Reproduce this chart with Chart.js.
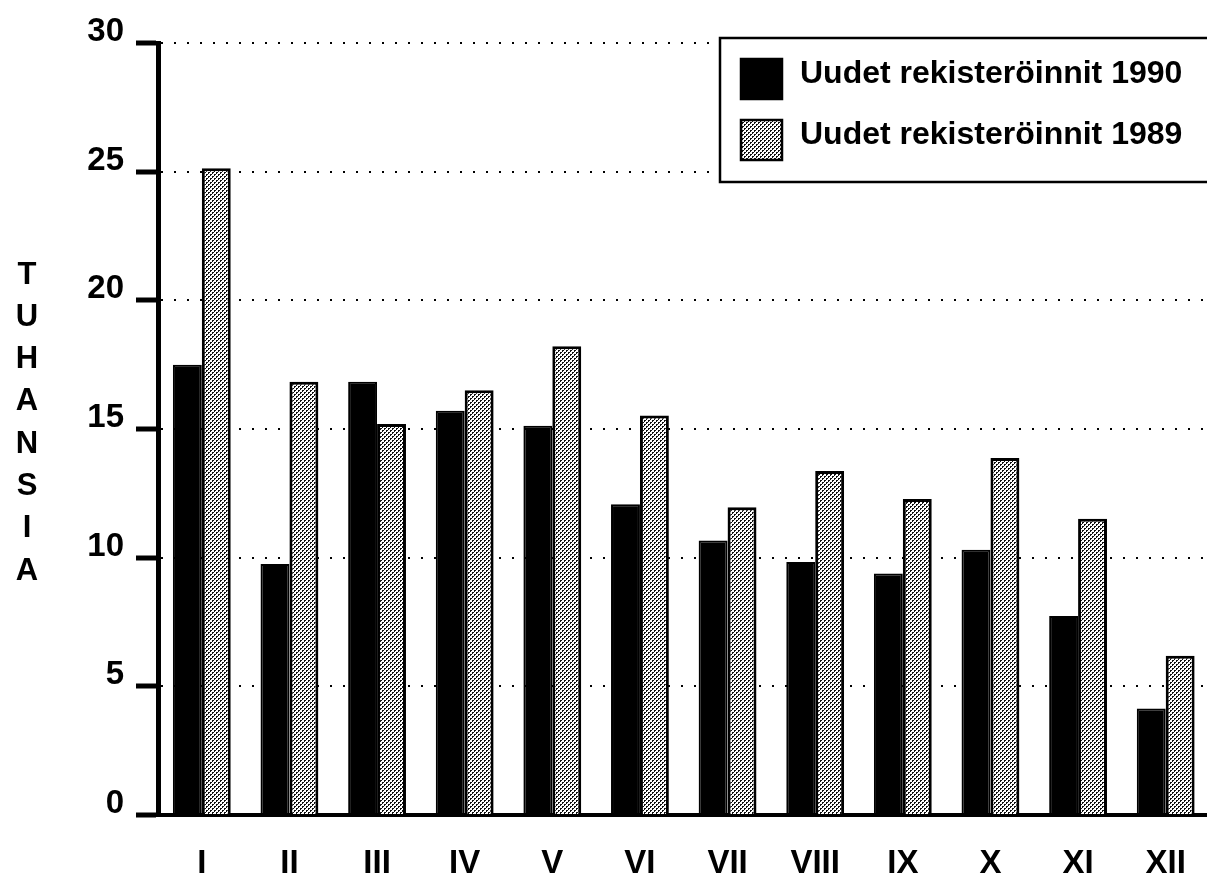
<!DOCTYPE html>
<html>
<head>
<meta charset="utf-8">
<script src="https://cdn.jsdelivr.net/npm/chart.js@4.4.1/dist/chart.umd.min.js"></script>
<style>
  html, body { margin: 0; padding: 0; background: #fff; overflow: hidden; }
  canvas { display: block; }
</style>
</head>
<body>
<canvas id="rekisterointiChart" width="1215" height="875"></canvas>
<script>
// kuukaudet ja arvot (tuhansia)
var kuukaudet = ['I', 'II', 'III', 'IV', 'V', 'VI', 'VII', 'VIII', 'IX', 'X', 'XI', 'XII'];
var rekisteroinnit1990 = [17.5, 9.75, 16.84, 15.71, 15.13, 12.08, 10.67, 9.83, 9.38, 10.31, 7.73, 4.14];
var rekisteroinnit1989 = [25.13, 16.84, 15.19, 16.51, 18.22, 15.52, 11.96, 13.37, 12.28, 13.87, 11.51, 6.19];
var sarjaNimet = ['Uudet rekisteröinnit 1990', 'Uudet rekisteröinnit 1989'];
var akseliOtsikko = 'TUHANSIA';

var fontti = '"Liberation Sans", Arial, Helvetica, sans-serif';

// rasterikuvio 1989 pylväille
function teeKuvio() {
    var c = document.createElement('canvas');
    c.width = 4; c.height = 4;
    var x = c.getContext('2d');
    x.fillStyle = '#fff';
    x.fillRect(0, 0, 4, 4);
    x.fillStyle = '#111';
    x.fillRect(0, 0, 2, 1);
    x.fillRect(0, 1, 1, 1);
    x.fillRect(2, 2, 2, 1);
    x.fillRect(2, 3, 1, 1);
    return x.createPattern(c, 'repeat');
}

var ctx = document.getElementById('rekisterointiChart').getContext('2d');
var kuvio = teeKuvio();

// pystyakselin otsikko kirjain kerrallaan
var pystyOtsikko = {
    id: 'pystyOtsikko',
    afterDraw: function (chart) {
        var c = chart.ctx;
        c.save();
        c.fillStyle = '#000';
        c.font = 'bold 31px ' + fontti;
        c.textAlign = 'center';
        c.textBaseline = 'middle';
        for (var i = 0; i < akseliOtsikko.length; i++) {
            c.fillText(akseliOtsikko[i], 27, 275 + i * 42.3);
        }
        c.restore();
    }
};

// selite laatikossa oikeassa yläkulmassa
var seliteLaatikko = {
    id: 'seliteLaatikko',
    afterDraw: function (chart) {
        var c = chart.ctx;
        c.save();
        c.fillStyle = '#fff';
        c.fillRect(720, 38, 520, 144);
        c.strokeStyle = '#000';
        c.lineWidth = 2.5;
        c.strokeRect(720, 38, 520, 144);
        c.font = 'bold 32px ' + fontti;
        c.textBaseline = 'middle';
        chart.data.datasets.forEach(function (ds, i) {
            var y = 58 + i * 61;
            c.fillStyle = ds.backgroundColor;
            c.fillRect(740, y, 43, 42);
            c.lineWidth = 2.5;
            c.strokeStyle = '#000';
            c.strokeRect(741, y + 1, 41, 40);
            c.fillStyle = '#000';
            c.fillText(ds.label, 800, y + 16);
        });
        c.restore();
    }
};

var rekisterointiChart = new Chart(ctx, {
    type: 'bar',
    data: {
        labels: kuukaudet,
        datasets: [{
            label: sarjaNimet[0],
            data: rekisteroinnit1990,
            backgroundColor: '#000',
            borderColor: '#000',
            borderWidth: 2,
            barPercentage: 1.0,
            categoryPercentage: 0.66
        }, {
            label: sarjaNimet[1],
            data: rekisteroinnit1989,
            backgroundColor: kuvio,
            borderColor: '#000',
            borderWidth: 3,
            barPercentage: 1.0,
            categoryPercentage: 0.66
        }]
    },
    options: {
        responsive: false,
        animation: false,
        devicePixelRatio: 1,
        layout: { padding: { top: 43, right: 3, left: 0, bottom: 0 } },
        plugins: {
            legend: { display: false },
            tooltip: { enabled: false }
        },
        scales: {
            x: {
                grid: { display: false, drawTicks: false },
                border: { display: true, color: '#000', width: 4 },
                ticks: {
                    color: '#000',
                    padding: 29,
                    font: { family: fontti, size: 33, weight: 'bold' }
                },
                afterFit: function (scale) { scale.height = 60; }
            },
            y: {
                min: 0,
                max: 30,
                ticks: {
                    stepSize: 5,
                    color: '#000',
                    padding: 12,
                    labelOffset: -11,
                    font: { family: fontti, size: 33, weight: 'bold' }
                },
                grid: {
                    color: '#000',
                    lineWidth: 2,
                    tickLength: 22,
                    tickWidth: 5,
                    tickColor: '#000',
                    tickBorderDash: []
                },
                border: { display: true, color: '#000', width: 5, dash: [2, 11] },
                afterFit: function (scale) { scale.width = 158; }
            }
        }
    },
    plugins: [pystyOtsikko, seliteLaatikko]
});
</script>
</body>
</html>
